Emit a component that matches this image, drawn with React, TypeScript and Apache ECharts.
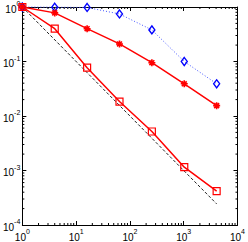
import React, { useEffect, useRef } from "react";
import * as echarts from "echarts";

const xValues = [1, 4, 16, 64, 256, 1024, 4096];
const squareErr = [1, 0.4, 0.077, 0.0184, 0.0052, 0.00115, 0.00042];
const starErr = [1, 0.78, 0.4, 0.21, 0.095, 0.039, 0.0155];
const diamondErr = [1, 0.99, 0.98, 0.745, 0.38, 0.1, 0.039];
const refX = [1, 4096];
const refY = [1, 0.000244];
const minorMult = [2, 3, 4, 5, 6, 7, 8, 9];
const xDecades = [1, 10, 100, 1000];
const yDecades = [0.0001, 0.001, 0.01, 0.1];

const FONT = "Liberation Sans";

const rich = {
  b: { fontSize: 10, fontFamily: FONT, color: "#000", lineHeight: 14, verticalAlign: "bottom" },
  s: { fontSize: 7, fontFamily: FONT, color: "#000", lineHeight: 4, verticalAlign: "top" },
};

const expOf = (v: number) => Math.round(Math.log10(v));

export default function App() {
  const ref = useRef<HTMLDivElement>(null);
  useEffect(() => {
    const chart = echarts.init(ref.current!, undefined, { renderer: "svg" });
    const minorX: number[][] = [];
    xDecades.forEach((d) => minorMult.forEach((m) => minorX.push([m * d, 0.01])));
    const minorY: number[][] = [];
    yDecades.forEach((d) => minorMult.forEach((m) => minorY.push([10, m * d])));

    const tickStyle = { stroke: "#000", lineWidth: 1 };

    const baseAxis = {
      axisLine: { show: true, onZero: false, lineStyle: { color: "#000", width: 1 } },
      axisTick: { show: true, inside: true, length: 4, lineStyle: { color: "#000", width: 1 } },
      splitLine: { show: false },
      minorTick: { show: false },
    };

    chart.setOption({
      animation: false,
      grid: { left: 21, top: 7, width: 219, height: 219, containLabel: false },
      xAxis: [
        {
          ...baseAxis,
          type: "log",
          logBase: 10,
          min: 1,
          max: 10000,
          position: "bottom",
          axisLabel: {
            show: true,
            margin: 3,
            showMinLabel: true,
            showMaxLabel: true,
            hideOverlap: false,
            formatter: (v: number) => `{b|10}{s|${expOf(v)}}`,
            rich,
          },
        },
        {
          ...baseAxis,
          type: "log",
          logBase: 10,
          min: 1,
          max: 10000,
          position: "top",
          axisLabel: { show: false },
        },
      ],
      yAxis: [
        {
          ...baseAxis,
          type: "log",
          logBase: 10,
          min: 0.0001,
          max: 1,
          position: "left",
          axisLabel: {
            show: true,
            margin: 2,
            showMinLabel: true,
            showMaxLabel: true,
            hideOverlap: false,
            formatter: (v: number) => `{b|10}{s|${expOf(v)}}`,
            rich,
          },
        },
        {
          ...baseAxis,
          type: "log",
          logBase: 10,
          min: 0.0001,
          max: 1,
          position: "right",
          axisLabel: { show: false },
        },
      ],
      series: [
        {
          type: "custom",
          silent: true,
          clip: false,
          renderItem: (params: any, api: any) => {
            const v = api.value(0);
            const pb = api.coord([v, 0.0001]);
            const pt = api.coord([v, 1]);
            return {
              type: "group",
              children: [
                { type: "line", shape: { x1: pb[0], y1: pb[1], x2: pb[0], y2: pb[1] - 2 }, style: tickStyle },
                { type: "line", shape: { x1: pt[0], y1: pt[1], x2: pt[0], y2: pt[1] + 2 }, style: tickStyle },
              ],
            };
          },
          data: minorX,
        },
        {
          type: "custom",
          silent: true,
          clip: false,
          renderItem: (params: any, api: any) => {
            const v = api.value(1);
            const pl = api.coord([1, v]);
            const pr = api.coord([10000, v]);
            return {
              type: "group",
              children: [
                { type: "line", shape: { x1: pl[0], y1: pl[1], x2: pl[0] + 2, y2: pl[1] }, style: tickStyle },
                { type: "line", shape: { x1: pr[0], y1: pr[1], x2: pr[0] - 2, y2: pr[1] }, style: tickStyle },
              ],
            };
          },
          data: minorY,
        },
        {
          type: "line",
          silent: true,
          clip: false,
          symbol: "none",
          lineStyle: { color: "#222", width: 1, type: [3, 2] },
          data: refX.map((x, i) => [x, refY[i]]),
        },
        {
          type: "line",
          silent: true,
          clip: false,
          symbol: "diamond",
          symbolSize: [6, 8],
          lineStyle: { color: "#4455ff", width: 1, type: [1, 2] },
          itemStyle: { color: "rgba(0,0,0,0)", borderColor: "#0000ff", borderWidth: 1.4 },
          data: xValues.map((x, i) => [x, diamondErr[i]]),
        },
        {
          type: "line",
          silent: true,
          clip: false,
          symbol: "path://M5,0L5,10M0,5L10,5M1.5,1.5L8.5,8.5M1.5,8.5L8.5,1.5",
          symbolSize: 7,
          lineStyle: { color: "#ff0000", width: 1.5 },
          itemStyle: { color: "rgba(0,0,0,0)", borderColor: "#ff0000", borderWidth: 1.6 },
          data: xValues.map((x, i) => [x, starErr[i]]),
        },
        {
          type: "line",
          silent: true,
          clip: false,
          symbol: "rect",
          symbolSize: 7,
          lineStyle: { color: "#ff0000", width: 1.5 },
          itemStyle: { color: "rgba(0,0,0,0)", borderColor: "#ff0000", borderWidth: 1.2 },
          data: xValues.map((x, i) => [x, squareErr[i]]),
        },
      ],
    });
    return () => chart.dispose();
  }, []);
  return (
    <div
      ref={ref}
      style={{ position: "fixed", left: 0, top: 0, width: 248, height: 242, background: "#fff" }}
    />
  );
}
